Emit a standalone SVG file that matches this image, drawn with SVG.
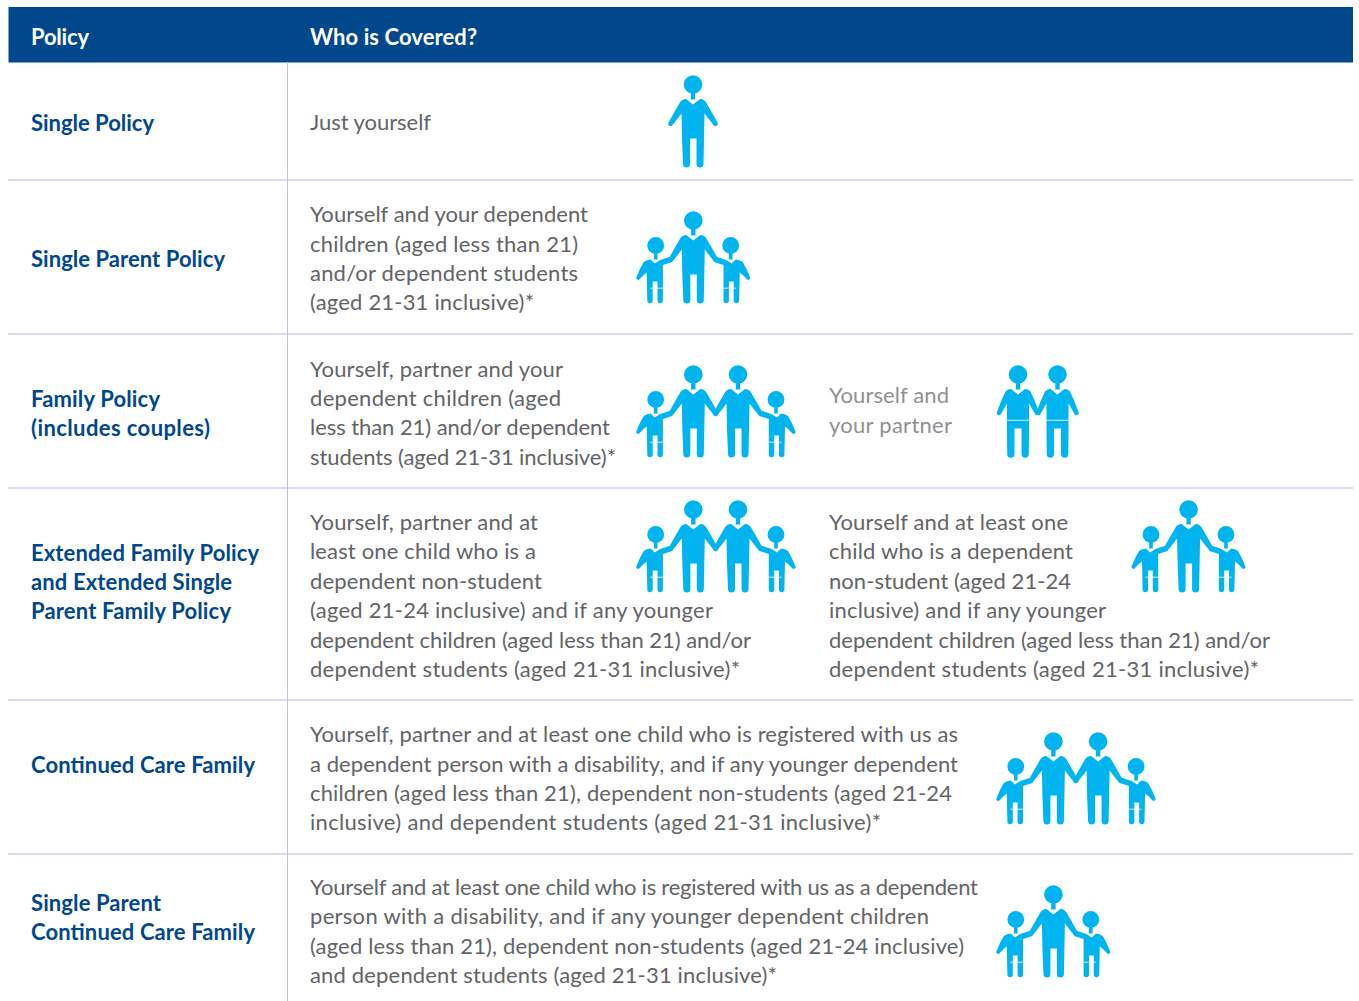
<svg xmlns="http://www.w3.org/2000/svg" width="1359" height="1001" viewBox="0 0 1359 1001">
<style>
text{font-family:Lato,"Liberation Sans",sans-serif;font-size:22px}
.h{fill:#fff;font-weight:700}
.p{fill:#00488b;font-weight:700}
.t{fill:#636466}
.l{fill:#8f9194}
.r{stroke:#cdd1e5;stroke-width:1.5}
.i{fill:#00b5ef}
.w{stroke:#fff;stroke-width:.8}
</style>
<defs>
<g id="adult" class="i">
<circle r="9.3"/><rect x="-2.2" y="7" width="4.4" height="8"/>
<path d="M-7,14.5L0,20L7,14.5Q10,14 12.5,17Q19,28 24.5,38A2.2,2.2 0 0 1 20.5,40.5Q16,35 11.5,29L11,54L10.5,79.5A3.5,3.5 0 0 1 3.5,79.5L3.5,54L-3,54L-3,79.5A3.5,3.5 0 0 1 -10,79.5L-11,54L-11.5,29Q-16,35 -20.5,40.5A2.2,2.2 0 0 1 -24.5,38Q-19,28 -12.5,17Q-10,14 -7,14.5Z"/>
</g>
<g id="partner">
<g class="i"><circle r="9.3"/><rect x="-2.2" y="7" width="4.4" height="8"/>
<path d="M-7,14.5L0,20L7,14.5Q10,14 12.5,17Q17,26 21,37.5A2.1,2.1 0 0 1 17,39.5Q14,34 11,29L11,54L10.8,79.5A3.5,3.5 0 0 1 3.5,79.5L3.5,54L-3.5,54L-3.5,79.5A3.5,3.5 0 0 1 -10.8,79.5L-11,54L-11,29Q-14,34 -17,39.5A2.1,2.1 0 0 1 -21,37.5Q-17,26 -12.5,17Q-10,14 -7,14.5Z"/></g>
<path class="w" d="M-11,45.8H11"/>
</g>
<g id="childL">
<g class="i"><circle r="8.4"/><rect x="-1.8" y="6" width="3.6" height="8"/>
<path d="M-5,14L-1,18L4.5,14.5L13.5,11.5A2.5,2.5 0 0 1 15,17L7.2,19.5L7.2,36L7.2,55A2.7,2.7 0 0 1 1.8,55L1.8,36L-3,36L-3,55A2.7,2.7 0 0 1 -8.4,55L-9,27Q-12,29 -16,33.5A1.6,1.6 0 0 1 -19.2,31.5Q-16,23 -12,16.5Q-9,14 -5,14Z"/></g>
<path class="w" d="M-5.5,42.7H7.5"/>
</g>
<g id="childR"><use href="#childL" transform="scale(-1,1)"/></g>
<g id="fam">
<use href="#adult" x="0" y="0"/><use href="#adult" x="44.7" y="0"/>
<use href="#childL" x="-37.6" y="25"/><use href="#childR" x="82.7" y="25"/>
</g>
<g id="par">
<use href="#adult" x="0" y="0"/>
<use href="#childL" x="-37.6" y="25"/><use href="#childR" x="37.4" y="25"/>
</g>
</defs>
<g id="table">
<rect x="8.5" y="7" width="1344.5" height="55.5" fill="#00488b"/>
<path class="r" d="M8,180H1353M8,334H1353M8,488H1353M8,700H1353M8,854H1353"/>
<path d="M287.5,62V1001" stroke="#bcc2dc" stroke-width="1"/>
</g>
<g id="header">
<text class="h" x="31" y="45" textLength="58">Policy</text>
<text class="h" x="310" y="44.5" textLength="167">Who is Covered?</text>
</g>
<g id="row1">
<text class="p" x="31" y="131" textLength="123">Single Policy</text>
<text class="t" x="310" y="130" textLength="121">Just yourself</text>
<use href="#adult" x="693" y="84.5"/>
</g>
<g id="row2">
<text class="p" x="31" y="267" textLength="194">Single Parent Policy</text>
<text class="t" x="310" y="222" textLength="278">Yourself and your dependent</text>
<text class="t" x="310" y="252" textLength="268">children (aged less than 21)</text>
<text class="t" x="310" y="281" textLength="268">and/or dependent students</text>
<text class="t" x="310" y="310" textLength="224">(aged 21-31 inclusive)*</text>
<use href="#par" x="693.3" y="220.5"/>
</g>
<g id="row3">
<text class="p" x="31" y="407" textLength="129">Family Policy</text>
<text class="p" x="31" y="436" textLength="179">(includes couples)</text>
<text class="t" x="310" y="377" textLength="253">Yourself, partner and your</text>
<text class="t" x="310" y="406" textLength="251">dependent children (aged</text>
<text class="t" x="310" y="435" textLength="300">less than 21) and/or dependent</text>
<text class="t" x="310" y="465" textLength="306">students (aged 21-31 inclusive)*</text>
<use href="#fam" x="693.3" y="374.5"/>
<text class="l" x="829" y="403" textLength="120">Yourself and</text>
<text class="l" x="829" y="433" textLength="123">your partner</text>
<use href="#partner" x="1018" y="374.5"/><use href="#partner" x="1057.5" y="374.5"/>
</g>
<g id="row4">
<text class="p" x="31" y="561" textLength="228">Extended Family Policy</text>
<text class="p" x="31" y="590" textLength="201">and Extended Single</text>
<text class="p" x="31" y="619" textLength="200">Parent Family Policy</text>
<text class="t" x="310" y="530" textLength="228">Yourself, partner and at</text>
<text class="t" x="310" y="559" textLength="226">least one child who is a</text>
<text class="t" x="310" y="589" textLength="232">dependent non-student</text>
<text class="t" x="310" y="618" textLength="403">(aged 21-24 inclusive) and if any younger</text>
<text class="t" x="310" y="648" textLength="441">dependent children (aged less than 21) and/or</text>
<text class="t" x="310" y="677" textLength="430">dependent students (aged 21-31 inclusive)*</text>
<use href="#fam" x="693.3" y="509.5"/>
<text class="t" x="829" y="530" textLength="239">Yourself and at least one</text>
<text class="t" x="829" y="559" textLength="244">child who is a dependent</text>
<text class="t" x="829" y="589" textLength="242">non-student (aged 21-24</text>
<text class="t" x="829" y="618" textLength="277">inclusive) and if any younger</text>
<text class="t" x="829" y="648" textLength="441">dependent children (aged less than 21) and/or</text>
<text class="t" x="829" y="677" textLength="430">dependent students (aged 21-31 inclusive)*</text>
<use href="#par" x="1188.6" y="509.5"/>
</g>
<g id="row5">
<text class="p" x="31" y="773" textLength="224">Continued Care Family</text>
<text class="t" x="310" y="742" textLength="648">Yourself, partner and at least one child who is registered with us as</text>
<text class="t" x="310" y="772" textLength="648">a dependent person with a disability, and if any younger dependent</text>
<text class="t" x="310" y="801" textLength="642">children (aged less than 21), dependent non-students (aged 21-24</text>
<text class="t" x="310" y="830" textLength="571">inclusive) and dependent students (aged 21-31 inclusive)*</text>
<use href="#fam" x="1053.4" y="741.5"/>
</g>
<g id="row6">
<text class="p" x="31" y="911" textLength="130">Single Parent</text>
<text class="p" x="31" y="940" textLength="224">Continued Care Family</text>
<text class="t" x="310" y="895" textLength="668">Yourself and at least one child who is registered with us as a dependent</text>
<text class="t" x="310" y="924" textLength="619">person with a disability, and if any younger dependent children</text>
<text class="t" x="310" y="954" textLength="654">(aged less than 21), dependent non-students (aged 21-24 inclusive)</text>
<text class="t" x="310" y="983" textLength="467">and dependent students (aged 21-31 inclusive)*</text>
<use href="#par" x="1053.4" y="894.5"/>
</g>
</svg>
